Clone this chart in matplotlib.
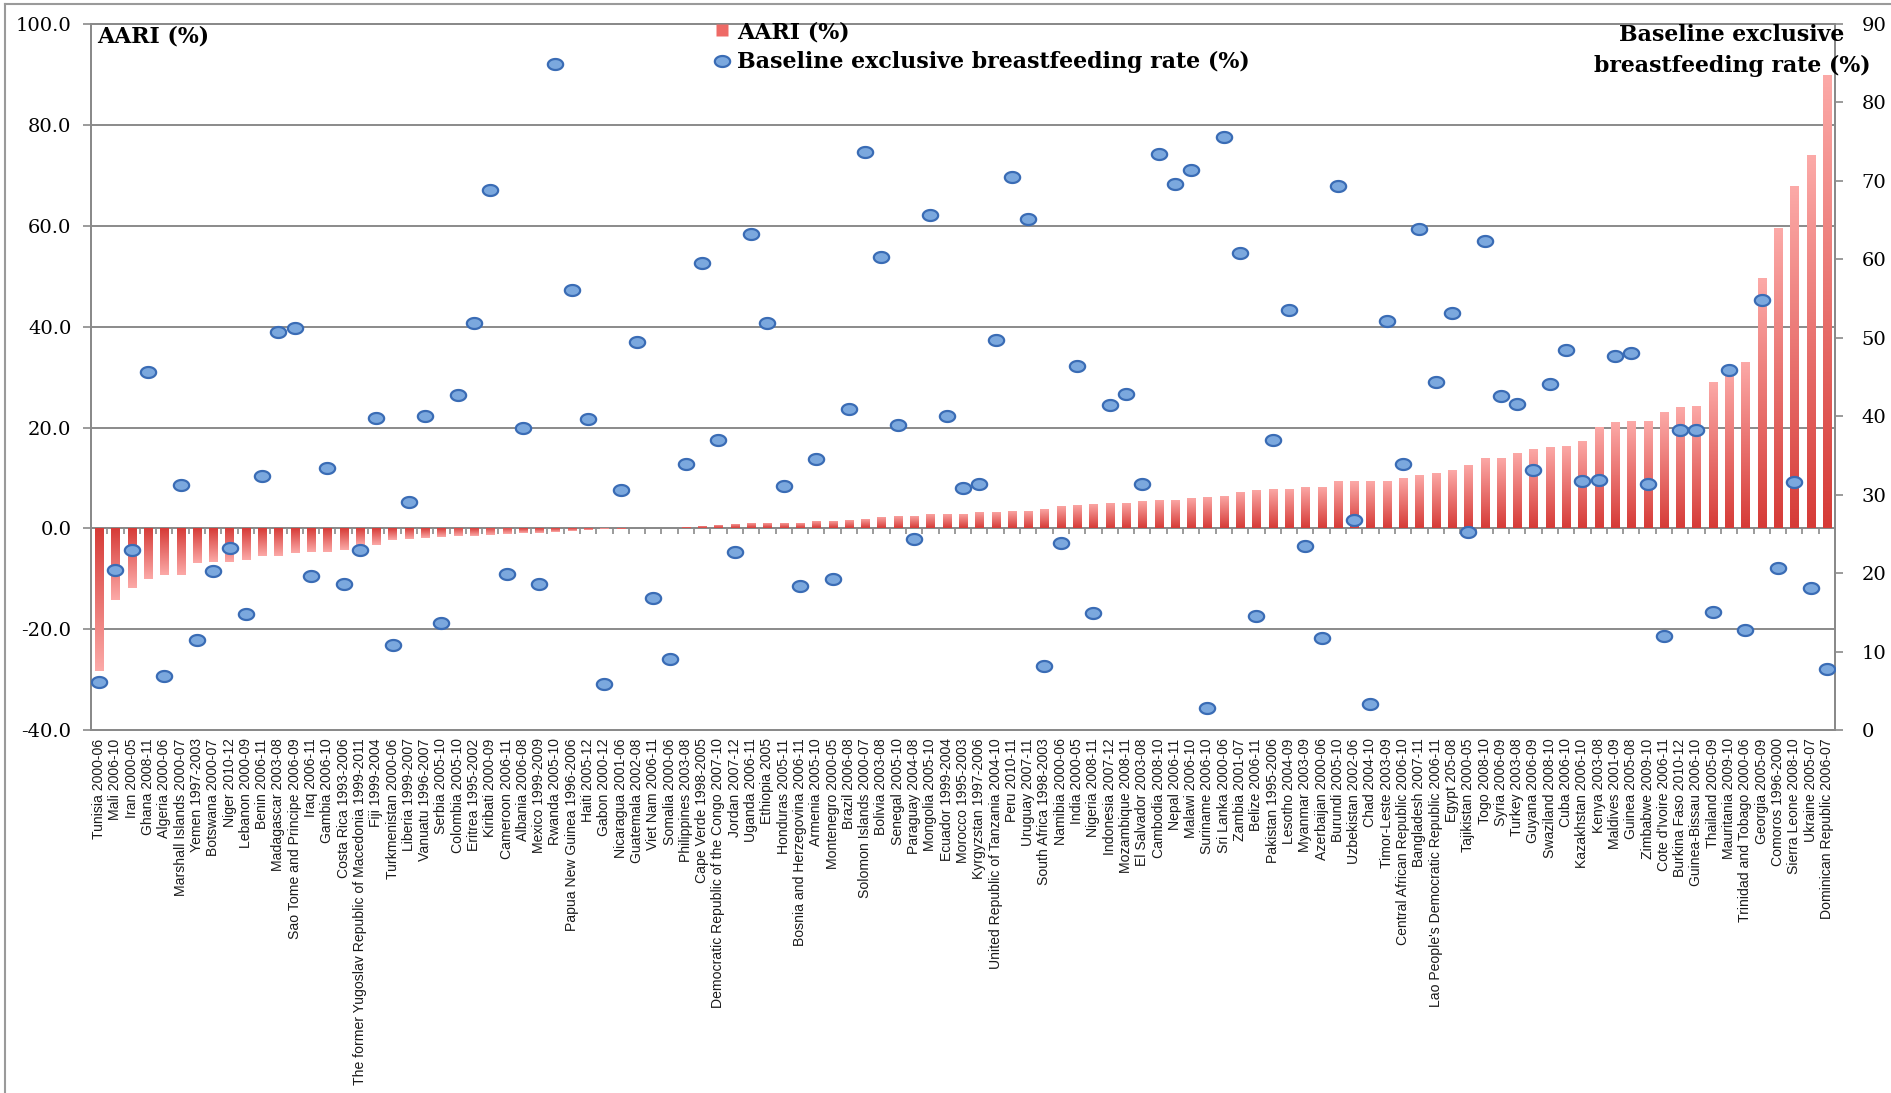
import numpy as np
import matplotlib
matplotlib.use("Agg")
import matplotlib.pyplot as plt
from matplotlib.path import Path
from matplotlib.lines import Line2D
from matplotlib.colors import LinearSegmentedColormap

# countries (survey period), sorted by AARI
countries = [
    "Tunisia 2000-06", "Mali 2006-10", "Iran 2000-05", "Ghana 2008-11", "Algeria 2000-06",
    "Marshall Islands 2000-07", "Yemen 1997-2003", "Botswana 2000-07", "Niger 2010-12",
    "Lebanon 2000-09", "Benin 2006-11", "Madagascar 2003-08", "Sao Tome and Principe 2006-09",
    "Iraq 2006-11", "Gambia 2006-10", "Costa Rica 1993-2006",
    "The former Yugoslav Republic of Macedonia 1999-2011", "Fiji 1999-2004",
    "Turkmenistan 2000-06", "Liberia 1999-2007", "Vanuatu 1996-2007", "Serbia 2005-10",
    "Colombia 2005-10", "Eritrea 1995-2002", "Kiribati 2000-09", "Cameroon 2006-11",
    "Albania 2006-08", "Mexico 1999-2009", "Rwanda 2005-10", "Papua New Guinea 1996-2006",
    "Haiti 2005-12", "Gabon 2000-12", "Nicaragua 2001-06", "Guatemala 2002-08",
    "Viet Nam 2006-11", "Somalia 2000-06", "Philippines 2003-08", "Cape Verde 1998-2005",
    "Democratic Republic of the Congo 2007-10", "Jordan 2007-12", "Uganda 2006-11",
    "Ethiopia 2005", "Honduras 2005-11", "Bosnia and Herzegovina 2006-11", "Armenia 2005-10",
    "Montenegro 2000-05", "Brazil 2006-08", "Solomon Islands 2000-07", "Bolivia 2003-08",
    "Senegal 2005-10", "Paraguay 2004-08", "Mongolia 2005-10", "Ecuador 1999-2004",
    "Morocco 1995-2003", "Kyrgyzstan 1997-2006", "United Republic of Tanzania 2004-10",
    "Peru 2010-11", "Uruguay 2007-11", "South Africa 1998-2003", "Namibia 2000-06",
    "India 2000-05", "Nigeria 2008-11", "Indonesia 2007-12", "Mozambique 2008-11",
    "El Salvador 2003-08", "Cambodia 2008-10", "Nepal 2006-11", "Malawi 2006-10",
    "Suriname 2006-10", "Sri Lanka 2000-06", "Zambia 2001-07", "Belize 2006-11",
    "Pakistan 1995-2006", "Lesotho 2004-09", "Myanmar 2003-09", "Azerbaijan 2000-06",
    "Burundi 2005-10", "Uzbekistan 2002-06", "Chad 2004-10", "Timor-Leste 2003-09",
    "Central African Republic 2006-10", "Bangladesh 2007-11",
    "Lao People's Democratic Republic 2006-11", "Egypt 205-08", "Tajikistan 2000-05",
    "Togo 2008-10", "Syria 2006-09", "Turkey 2003-08", "Guyana 2006-09", "Swaziland 2008-10",
    "Cuba 2006-10", "Kazakhstan 2006-10", "Kenya 2003-08", "Maldives 2001-09",
    "Guinea 2005-08", "Zimbabwe 2009-10", "Cote d'Ivoire 2006-11", "Burkina Faso 2010-12",
    "Guinea-Bissau 2006-10", "Thailand 2005-09", "Mauritania 2009-10",
    "Trinidad and Tobago 2000-06", "Georgia 2005-09", "Comoros 1996-2000",
    "Sierra Leone 2008-10", "Ukraine 2005-07", "Dominican Republic 2006-07",
]

# AARI (%) - left axis
aari = [
    -28.2, -14.2, -11.8, -10.0, -9.3, -9.2, -6.8, -6.7, -6.6, -6.2,
    -5.5, -5.4, -4.9, -4.7, -4.6, -4.3, -3.3, -3.2, -2.3, -2.1,
    -1.9, -1.7, -1.6, -1.5, -1.4, -1.2, -0.9, -0.9, -0.7, -0.5,
    -0.3, -0.2, -0.1, 0.0, 0.0, 0.1, 0.2, 0.5, 0.7, 0.8,
    1.0, 1.0, 1.0, 1.0, 1.4, 1.4, 1.6, 1.9, 2.3, 2.5,
    2.5, 2.9, 2.9, 2.9, 3.2, 3.2, 3.4, 3.4, 3.9, 4.5,
    4.7, 4.9, 5.1, 5.1, 5.4, 5.7, 5.7, 6.0, 6.2, 6.5,
    7.3, 7.7, 7.9, 7.9, 8.2, 8.2, 9.3, 9.3, 9.3, 9.3,
    10.0, 10.5, 11.0, 11.5, 12.6, 13.9, 14.0, 14.9, 15.8, 16.1,
    16.4, 17.4, 20.2, 21.0, 21.2, 21.2, 23.0, 24.1, 24.3, 29.1,
    31.4, 33.0, 49.6, 59.5, 67.9, 74.1, 89.9,
]

# baseline exclusive breastfeeding rate (%) - right axis
ebf = [
    6.1, 20.4, 23.0, 45.6, 6.9, 31.3, 11.5, 20.3, 23.2, 14.8,
    32.4, 50.7, 51.3, 19.6, 33.4, 18.6, 22.9, 39.8, 10.8, 29.1,
    40.0, 13.6, 42.7, 51.9, 68.9, 19.9, 38.5, 18.6, 84.9, 56.1,
    39.7, 5.9, 30.6, 49.5, 16.9, 9.1, 33.9, 59.5, 37.0, 22.7,
    63.2, 51.9, 31.1, 18.4, 34.6, 19.3, 40.9, 73.7, 60.3, 38.9,
    24.4, 65.6, 40.0, 30.9, 31.4, 49.7, 70.5, 65.1, 8.2, 23.8,
    46.4, 14.9, 41.5, 42.8, 31.4, 73.4, 69.6, 71.4, 2.8, 75.6,
    60.8, 14.6, 37.0, 53.5, 23.5, 11.7, 69.3, 26.8, 3.3, 52.1,
    33.9, 63.9, 44.4, 53.2, 25.3, 62.3, 42.6, 41.6, 33.1, 44.1,
    48.5, 31.8, 31.9, 47.7, 48.1, 31.4, 12.0, 38.2, 38.2, 15.0,
    45.9, 12.7, 54.8, 20.7, 31.6, 18.1, 7.8,
]

grid_c = "#8a8a8a"
serif = "DejaVu Serif"
sans = "Liberation Sans"

fig = plt.figure(figsize=(18.91, 10.93), dpi=100)
ax = fig.add_axes([0.0481, 0.332, 0.9223, 0.646])
x = np.arange(len(countries))

# bars with a vertical gradient (light top, dark bottom)
bars = ax.bar(x, aari, width=0.5, color="none", zorder=2)
cmap = LinearSegmentedColormap.from_list("aari", ["#fcaaa8", "#d63b37"])
grad = np.linspace(0, 1, 256).reshape(-1, 1)
for b in bars:
    bb = b.get_bbox()
    if bb.height == 0:
        continue
    im = ax.imshow(grad, cmap=cmap, aspect="auto", origin="upper",
                   extent=(bb.x0, bb.x1, bb.y0, bb.y1), zorder=2)
    im.set_clip_path(b)

ax.set_xlim(-0.5, len(countries) - 0.5)
ax.set_ylim(-40, 100)
ax.set_yticks(np.arange(-40, 101, 20))
ax.set_yticklabels(["%.1f" % v for v in np.arange(-40, 101, 20)],
                   fontfamily=serif, fontsize=14)
ax.yaxis.grid(True, color=grid_c, lw=1.4)
ax.set_axisbelow(True)
ax.tick_params(axis="y", direction="out", length=6, width=1.2, color=grid_c, pad=8)
ax.set_xticks(x)
ax.set_xticklabels(countries, rotation=90, fontfamily=sans, fontsize=10.1,
                   color="#1a1a1a", va="top", ha="center")
ax.tick_params(axis="x", length=0, pad=6)
for s in ax.spines.values():
    s.set_color(grid_c)
    s.set_linewidth(1.4)

# category axis crossing at zero
sec = ax.secondary_xaxis(40 / 140)
sec.set_xticks(np.arange(-0.5, len(countries), 1))
sec.tick_params(axis="x", which="both", bottom=True, top=False, labelbottom=False,
                labeltop=False, direction="out", length=4, width=1.2, color=grid_c)
for s in sec.spines.values():
    s.set_color(grid_c)
    s.set_linewidth(1.1)

# breastfeeding dots on the right axis
ax2 = ax.twinx()
t = np.linspace(0, 2 * np.pi, 60)
ell = Path(np.column_stack([np.cos(t), 0.72 * np.sin(t)]), closed=True)
ax2.plot(x, ebf, linestyle="none", marker=ell, markersize=11,
         markerfacecolor="#7ba8de", markeredgecolor="#3a6cb5", markeredgewidth=1.6, zorder=3)
ax2.set_ylim(0, 90)
ax2.set_yticks(np.arange(0, 91, 10))
ax2.set_yticklabels([str(v) for v in range(0, 91, 10)], fontfamily=serif, fontsize=14)
ax2.tick_params(axis="y", direction="out", length=6, width=1.2, color=grid_c, pad=13)
for s in ax2.spines.values():
    s.set_color(grid_c)
    s.set_linewidth(1.4)

# axis titles
title_kw = dict(fontfamily=serif, fontweight="bold", fontsize=15.8, va="top")
fig.text(97 / 1891, 1 - 25 / 1093, "AARI (%)", ha="left", **title_kw)
fig.text(1732 / 1891, 1 - 24 / 1093, "Baseline exclusive", ha="center", **title_kw)
fig.text(1732 / 1891, 1 - 55 / 1093, "breastfeeding rate (%)", ha="center", **title_kw)

# legend
h1 = Line2D([], [], linestyle="none", marker="s", markersize=9,
            markerfacecolor="#ee6a66", markeredgecolor="none")
h2 = Line2D([], [], linestyle="none", marker=ell, markersize=11,
            markerfacecolor="#7ba8de", markeredgecolor="#3a6cb5", markeredgewidth=1.6)
leg = fig.legend([h1, h2], ["AARI (%)", "Baseline exclusive breastfeeding rate (%)"],
                 loc="upper left", bbox_to_anchor=(714 / 1891, 1 - 21 / 1093),
                 frameon=False, handlelength=0.7, handletextpad=0.35, labelspacing=0.38,
                 borderpad=0, borderaxespad=0,
                 prop={"family": serif, "weight": "bold", "size": 15.9})

# outer frame lines (left and top)
fig.add_artist(Line2D([5 / 1891, 5 / 1891], [0, 1 - 4 / 1093], transform=fig.transFigure,
                      color="#9a9a9a", lw=1.5))
fig.add_artist(Line2D([5 / 1891, 1], [1 - 4 / 1093, 1 - 4 / 1093], transform=fig.transFigure,
                      color="#9a9a9a", lw=1.5))

fig.savefig("out.png", dpi=100)
